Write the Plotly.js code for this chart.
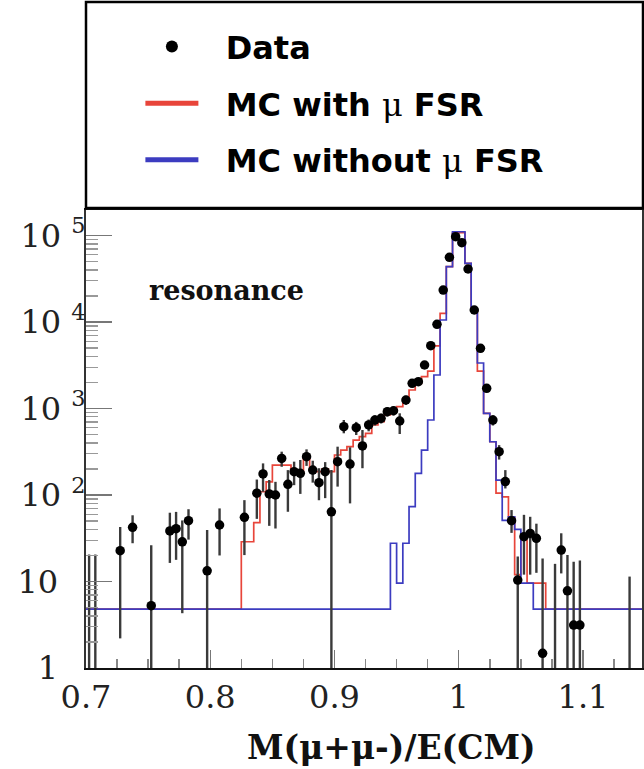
<!DOCTYPE html>
<html>
<head>
<meta charset="utf-8">
<script src="https://cdn.plot.ly/plotly-3.0.1.min.js"></script>
<style>
  html, body { margin: 0; padding: 0; background: #ffffff; overflow: hidden; }
  #chart { width: 644px; height: 769px; }
</style>
</head>
<body>
<div id="chart"></div>
<script>
// ---- Data: events per bin, M(mu+mu-)/E(CM) ----
const dataX = [0.7275, 0.7375, 0.7525, 0.7675, 0.7725, 0.7775, 0.7825, 0.7975, 0.8075, 0.8275,
               0.8375, 0.8425, 0.8475, 0.8525, 0.8575, 0.8625, 0.8675, 0.8725, 0.8775, 0.8825,
               0.8875, 0.8925, 0.8975, 0.9025, 0.9075, 0.9125, 0.9175, 0.9225, 0.9275, 0.9325,
               0.9375, 0.9425, 0.9475, 0.9525, 0.9575, 0.9625, 0.9675, 0.9725, 0.9775, 0.9825,
               0.9875, 0.9925, 0.9975, 1.0025, 1.0075, 1.0125, 1.0175, 1.0225, 1.0275, 1.0325,
               1.0375, 1.0425, 1.0475, 1.0525, 1.0575, 1.0625, 1.0675, 1.0825, 1.0875, 1.0925,
               1.0975];
const dataY = [22.7, 42.3, 5.25, 38.4, 40.8, 28.8, 50.5, 13.3, 45, 55.2,
               105, 175, 103, 100, 265, 133, 186, 178, 277, 194,
               139, 186, 64, 243, 617, 228, 600, 369, 645, 736,
               771, 918, 942, 717, 1254, 1955, 2042, 3185, 5320, 9400,
               23400, 56000, 96900, 82600, 41000, 13770, 4966, 1713, 736, 317,
               143, 50.5, 10.4, 33, 36, 31.6, 1.48, 23.1, 7.8, 3.14,
               3.14];
const dataErrUp = [20, 16, 21, 24, 23, 22, 18, 26, 25, 32,
                   46, 57, 46, 42, 52, 61, 57, 76, 60, 55,
                   65, 54, 130, 119, 119, 128, 100, 195, 100, 100,
                   100, 110, 110, 163, 150, 150, 150, 200, 250, 300,
                   500, 800, 1000, 1000, 700, 400, 250, 150, 100, 60,
                   51, 16.5, 9, 26, 20, 15, 17, 13, 12.4, 13.8,
                   14.3];
const dataErrDown = [20.5, 14.6, 5.25, 22, 23, 24.5, 20, 13.3, 25, 35,
                     52, 66, 59, 59, 53, 69, 56, 75, 60, 55,
                     52, 94, 64, 118, 100, 148, 106, 165, 100, 100,
                     100, 110, 110, 210, 150, 150, 150, 200, 250, 300,
                     500, 800, 1000, 1000, 700, 400, 250, 150, 100, 60,
                     24, 14, 10.4, 21, 24, 19, 1.48, 10.7, 7.8, 3.14,
                     3.14];
// bins with zero entries (only their upper error bar is visible)
const zeroBinX = [0.7025, 0.7075, 1.0775, 1.1375];
const zeroBinY = [0.5, 0.5, 0.5, 0.5];
const zeroBinErrUp = [20, 20, 15.5, 10.9];

// ---- MC histograms: bin lower edges and contents ----
const mcFsrEdges = [0.700, 0.825, 0.835, 0.840, 0.845, 0.850, 0.865, 0.870, 0.875, 0.880,
                    0.885, 0.890, 0.895, 0.900, 0.905, 0.910, 0.915, 0.920, 0.925, 0.930,
                    0.935, 0.940, 0.945, 0.950, 0.955, 0.960, 0.965, 0.970, 0.975, 0.980,
                    0.985, 0.990, 0.995, 1.005, 1.010, 1.015, 1.020, 1.025, 1.030, 1.035,
                    1.040, 1.045, 1.050, 1.055, 1.070, 1.200];
const mcFsrY = [4.8, 28.8, 47.9, 109, 142, 222, 194, 178, 270, 194,
                186, 200, 186, 290, 331, 362, 432, 472, 517, 645,
                703, 841, 918, 1050, 1312, 1636, 1955, 2333, 2700, 5300,
                12600, 43600, 108000, 47700, 13770, 2700, 880, 413, 105, 95,
                55, 12, 30, 9.6, 4.8, 4.8];
const mcNoFsrEdges = [0.700, 0.945, 0.950, 0.955, 0.960, 0.965, 0.970, 0.975, 0.980, 0.985,
                      0.990, 0.995, 1.005, 1.010, 1.015, 1.020, 1.025, 1.030, 1.035, 1.040,
                      1.045, 1.050, 1.060, 1.200];
const mcNoFsrY = [4.8, 27.7, 9.6, 27.7, 73.3, 178, 331, 736, 2440, 10550,
                  43600, 110600, 47700, 13770, 3360, 880, 413, 149, 51, 56,
                  40, 9.6, 4.8, 4.8];

const xTickVals = [0.7, 0.8, 0.9, 1.0, 1.1];
const xTickText = ['0.7', '0.8', '0.9', '1', '1.1'];
const yTickVals = [1, 10, 100, 1000, 10000, 100000];
const yTickText = ['1\u00a0\u00a0<sup>\u00a0</sup>', '10\u00a0\u00a0<sup>\u00a0</sup>',
                   '10\u00a0<sup>2</sup>', '10\u00a0<sup>3</sup>', '10\u00a0<sup>4</sup>', '10\u00a0<sup>5</sup>'];

const errStyle = { color: '#3a3a3a', thickness: 2.4, width: 0 };
const mu = '<span style="font-family:\'DejaVu Serif\';font-weight:normal">μ</span>';

const traces = [
  {
    name: '\u00a0\u00a0MC with ' + mu + ' FSR', legendgroup: 'fsr',
    x: mcFsrEdges, y: mcFsrY, type: 'scatter', mode: 'lines',
    line: { shape: 'hv', color: '#e8453a', width: 1.7 },
    legendrank: 2
  },
  {
    name: '\u00a0\u00a0MC without ' + mu + ' FSR', legendgroup: 'nofsr',
    x: mcNoFsrEdges, y: mcNoFsrY, type: 'scatter', mode: 'lines',
    line: { shape: 'hv', color: '#3c3cc0', width: 1.7 },
    legendrank: 3
  },
  {
    name: '\u00a0\u00a0Data', legendgroup: 'data',
    x: dataX, y: dataY, type: 'scatter', mode: 'markers',
    marker: { color: '#000000', size: 9.5 },
    error_y: Object.assign({ type: 'data', symmetric: false, array: dataErrUp, arrayminus: dataErrDown, visible: true }, errStyle),
    legendrank: 1
  },
  {
    name: 'empty bins', legendgroup: 'data',
    x: zeroBinX, y: zeroBinY, type: 'scatter', mode: 'markers',
    marker: { color: '#000000', size: 9.5 },
    error_y: Object.assign({ type: 'data', symmetric: false, array: zeroBinErrUp, arrayminus: [0, 0, 0, 0], visible: true }, errStyle),
    showlegend: false
  }
];

const layout = {
  width: 644, height: 769,
  margin: { l: 86, r: 2, t: 210, b: 101, autoexpand: false },
  paper_bgcolor: '#ffffff', plot_bgcolor: '#ffffff',
  showlegend: true,
  legend: {
    xref: 'container', yref: 'container',
    x: 0.218, y: 0.975, xanchor: 'left', yanchor: 'top',
    bgcolor: 'rgba(0,0,0,0)', borderwidth: 0,
    font: { family: 'DejaVu Sans', size: 32, weight: 'bold', color: '#000000' },
    itemsizing: 'constant', itemwidth: 53, tracegroupgap: 12
  },
  xaxis: {
    type: 'linear', range: [0.7, 1.1475], automargin: false,
    tickvals: xTickVals, ticktext: xTickText, tickangle: 0,
    ticks: 'inside', ticklen: 18, tickwidth: 1.5, tickcolor: '#777777',
    minor: { dtick: 0.025, tick0: 0.7, ticks: 'inside', ticklen: 9, tickwidth: 1.5, tickcolor: '#888888' },
    showline: true, linecolor: '#111111', linewidth: 2, mirror: true,
    showgrid: false, zeroline: false,
    tickfont: { family: 'DejaVu Serif', size: 32, color: '#222222' }
  },
  yaxis: {
    type: 'log', range: [0, 5.295], automargin: false,
    tickvals: yTickVals, ticktext: yTickText, ticklabelstandoff: -8,
    ticks: 'inside', ticklen: 26, tickwidth: 1.5, tickcolor: '#777777',
    minor: { dtick: 'D1', ticks: 'inside', ticklen: 12, tickwidth: 1.2, tickcolor: '#999999' },
    showline: true, linecolor: '#333333', linewidth: 2, mirror: true,
    showgrid: false, zeroline: false,
    tickfont: { family: 'DejaVu Serif', size: 32, color: '#222222' }
  },
  shapes: [
    { type: 'rect', xref: 'paper', yref: 'paper', x0: 0, x1: 1.0018, y0: 1.0044, y1: 1.454,
      line: { color: '#000000', width: 2.5 }, fillcolor: 'rgba(0,0,0,0)', layer: 'above' }
  ],
  annotations: [
    { text: 'resonance', xref: 'paper', yref: 'paper', x: 0.2518, y: 0.825,
      xanchor: 'center', yanchor: 'middle',
      showarrow: false, font: { family: 'DejaVu Serif', size: 27, weight: 'bold', color: '#111111' } },
    { text: 'M(μ+μ-)/E(CM)', xref: 'paper', yref: 'paper', x: 0.5486, y: -0.1725,
      xanchor: 'center', yanchor: 'middle', showarrow: false,
      font: { family: 'DejaVu Serif', size: 33, weight: 'bold', color: '#111111' } }
  ]
};

Plotly.newPlot('chart', traces, layout, { displayModeBar: false, staticPlot: true });
</script>
</body>
</html>
